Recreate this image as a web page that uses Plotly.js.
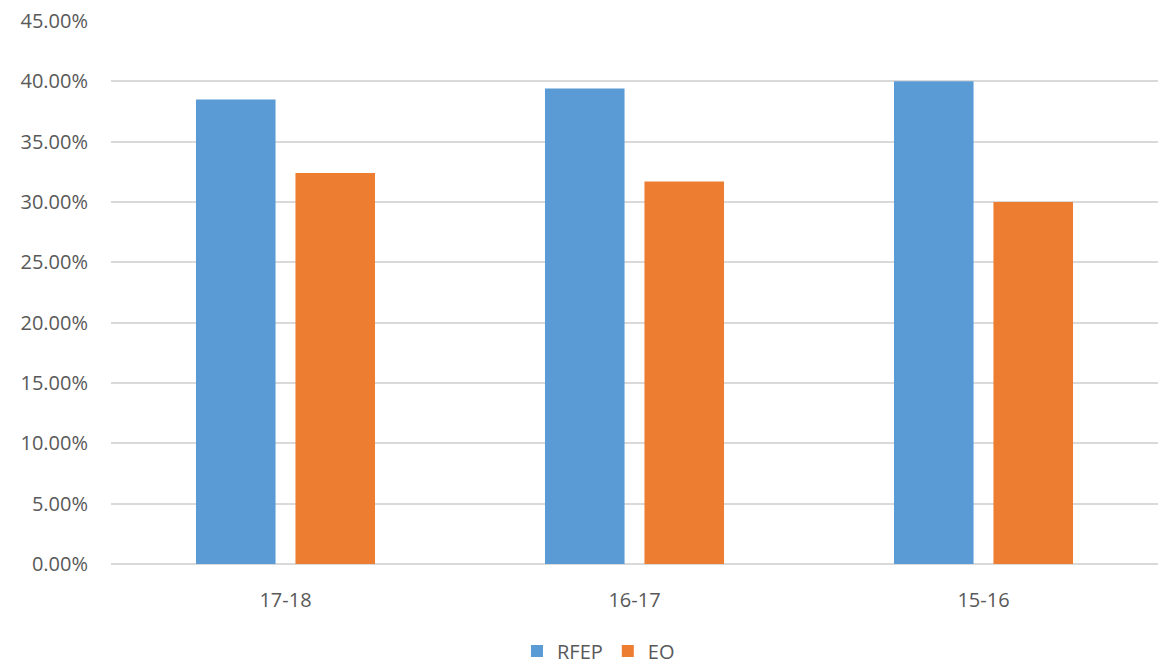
<!DOCTYPE html>
<html>
<head>
<meta charset="utf-8">
<script src="https://cdn.plot.ly/plotly-3.0.1.min.js"></script>
<style>html,body{margin:0;padding:0;background:#fff;}#chart{width:1167px;height:665px;}</style>
</head>
<body>
<div id="chart"></div>
<script>
const categories = ["17-18", "16-17", "15-16"];
const rfepValues = [0.385, 0.394, 0.400];
const eoValues = [0.324, 0.317, 0.300];
const seriesNames = ["RFEP", "EO"];
const yTickValues = [0, 0.05, 0.10, 0.15, 0.20, 0.25, 0.30, 0.35, 0.40, 0.45];

const textColor = "#595959";
const fontFamily = "Open Sans, Noto Sans, Liberation Sans, sans-serif";

const traces = [
  {type: "bar", name: seriesNames[0], x: categories, y: rfepValues,
   marker: {color: "#5B9BD5", line: {width: 0}}, hoverinfo: "skip"},
  {type: "bar", name: seriesNames[1], x: categories, y: eoValues,
   marker: {color: "#ED7D31", line: {width: 0}}, hoverinfo: "skip"}
];

const layout = {
  width: 1167, height: 665,
  margin: {l: 111, r: 9, t: 21, b: 101, autoexpand: false},
  paper_bgcolor: "#ffffff", plot_bgcolor: "#ffffff",
  font: {family: fontFamily, size: 20, color: textColor},
  barmode: "group",
  bargap: 0.43,
  bargroupgap: 0.2,
  showlegend: true,
  legend: {orientation: "h", xref: "container", yref: "container",
           x: 0.443, xanchor: "left", y: 0.021, yanchor: "middle",
           font: {size: 20, color: textColor}, itemwidth: 30, tracegroupgap: 0},
  xaxis: {type: "category", showgrid: false, zeroline: false, showline: false,
          ticks: "", ticklabelstandoff: 22, tickfont: {size: 20, color: textColor}},
  yaxis: {range: [0, 0.45], tickvals: yTickValues, tickformat: ".2%",
          showgrid: true, gridcolor: "#D9D9D9", gridwidth: 2,
          zeroline: true, zerolinecolor: "#D9D9D9", zerolinewidth: 2,
          showline: false, ticks: "", ticklabelstandoff: 22,
          tickfont: {size: 20, color: textColor}}
};

Plotly.newPlot("chart", traces, layout, {displayModeBar: false, staticPlot: true});
</script>
</body>
</html>
